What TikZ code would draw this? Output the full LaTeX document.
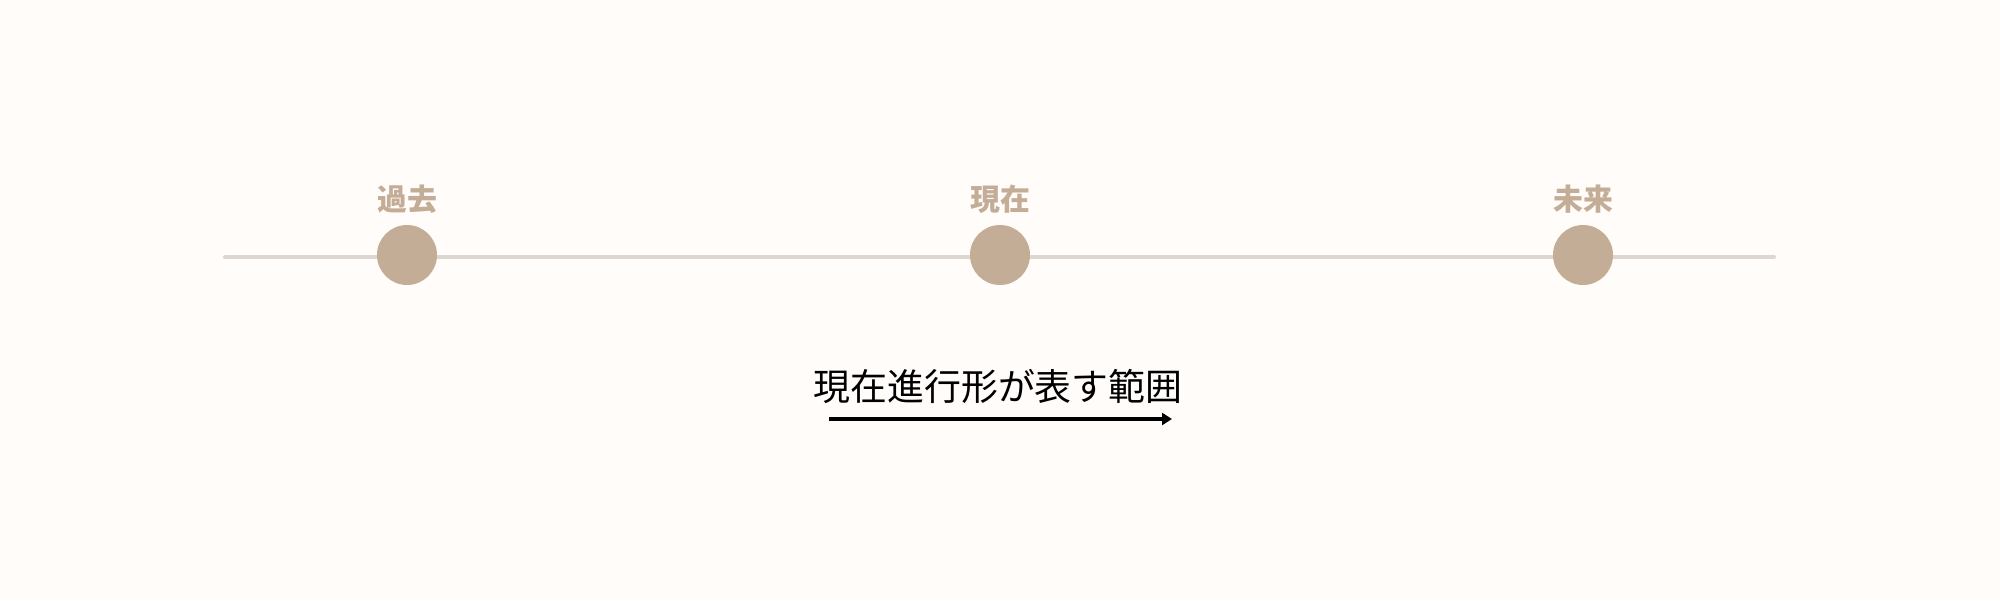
\documentclass[tikz,border=0pt]{standalone}
\usepackage{fontspec}
\setmainfont{Noto Sans CJK JP}
\usetikzlibrary{positioning,arrows.meta}
\definecolor{bgcol}{HTML}{FFFCFA}
\definecolor{linecol}{HTML}{DED6D0}
\definecolor{dotcol}{HTML}{C4AD96}
\begin{document}
\begin{tikzpicture}[
    dot/.style={circle, fill=dotcol, minimum size=0.6cm, inner sep=0pt},
    era/.style={text=dotcol, font=\bfseries\fontsize{8.5}{10}\selectfont, inner sep=0pt},
  ]
  \fill [bgcol] (0,0) rectangle (20,6);
  \useasboundingbox (0,0) rectangle (20,6);
  % timeline
  \coordinate (tstart) at (2.25,3.43);
  \coordinate (tend) at (17.74,3.43);
  \draw [linecol, line width=0.04cm, line cap=round] (tstart) -- (tend);
  \node [dot] (past) at (4.07,3.45) {};
  \node [dot] (now) at (10.0,3.45) {};
  \node [dot] (future) at (15.83,3.45) {};
  \node [era, above=0.1cm of past] (pastlabel) {過去};
  \node [era, above=0.1cm of now] (nowlabel) {現在};
  \node [era, above=0.1cm of future] (futurelabel) {未来};
  % range
  \node [font=\fontsize{10.5}{12}\selectfont, inner sep=0pt] (range) at (9.98,2.14) {現在進行形が表す範囲};
  \coordinate (rstart) at (8.29,1.81);
  \coordinate (rend) at (11.72,1.81);
  \draw [-{Triangle[length=0.1cm,width=0.12cm]}, line width=0.04cm] (rstart) -- (rend);
\end{tikzpicture}
\end{document}
